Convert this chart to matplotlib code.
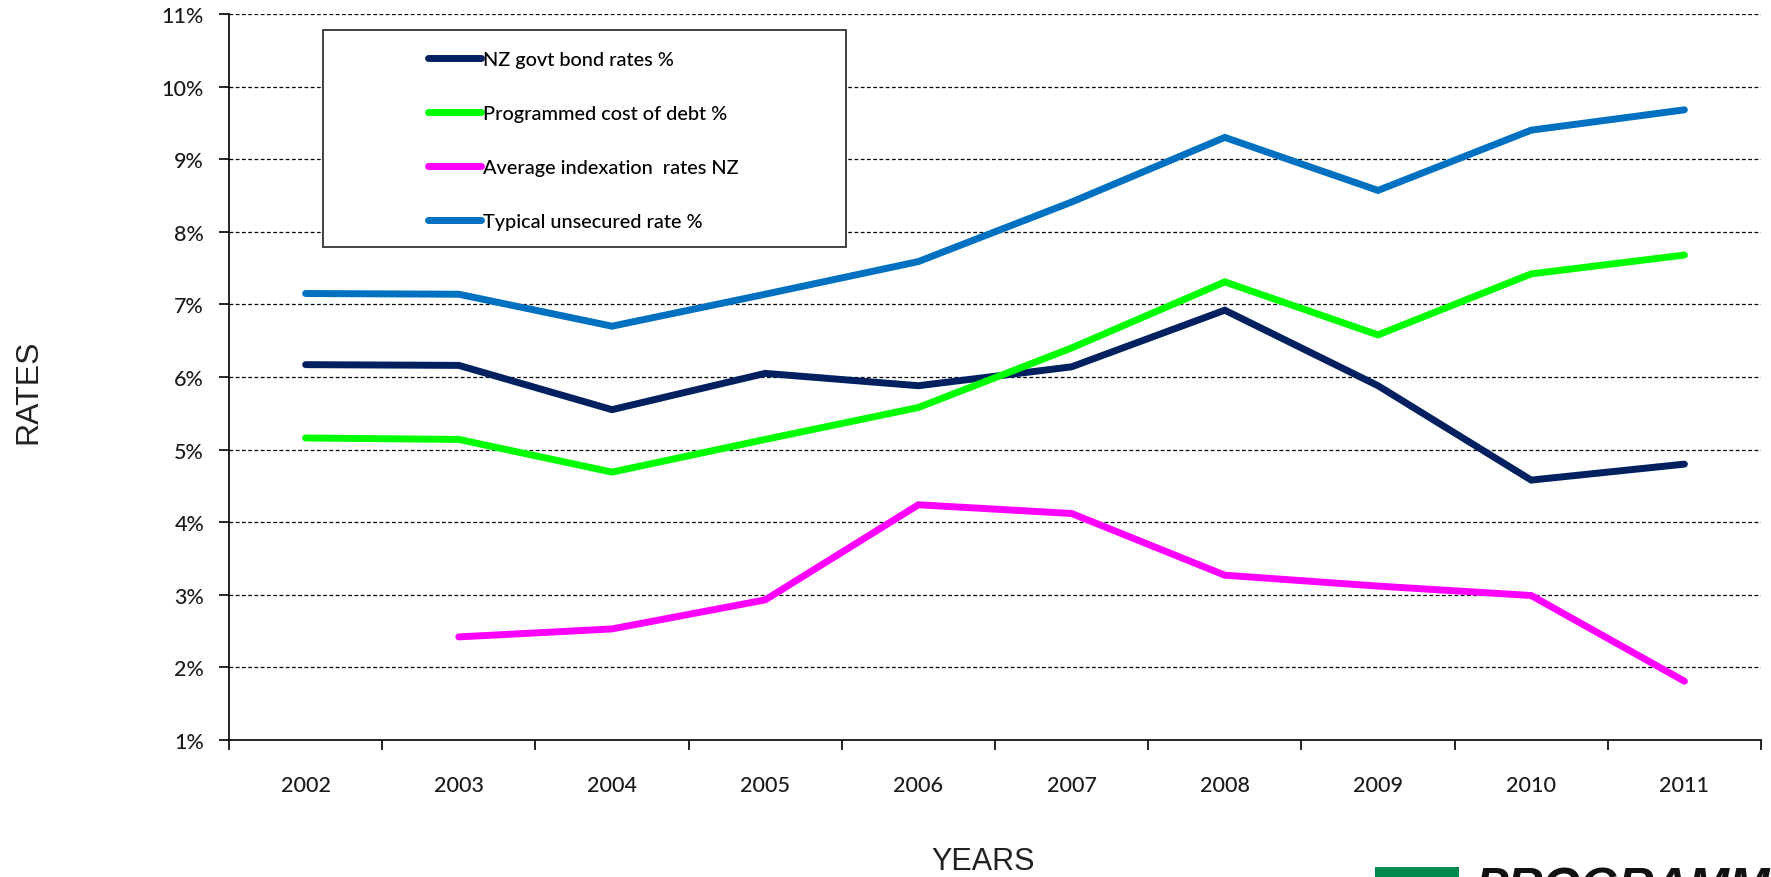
import matplotlib
matplotlib.use("Agg")
import matplotlib.pyplot as plt
from matplotlib.patches import Rectangle
from matplotlib.ticker import FuncFormatter
import numpy as np

years = ["2002", "2003", "2004", "2005", "2006", "2007", "2008", "2009", "2010", "2011"]
nz_govt_bond = [6.17, 6.16, 5.55, 6.05, 5.88, 6.14, 6.92, 5.88, 4.58, 4.80]
programmed_cost = [5.16, 5.14, 4.69, 5.14, 5.58, 6.40, 7.31, 6.58, 7.42, 7.68]
avg_indexation = [np.nan, 2.42, 2.53, 2.93, 4.24, 4.12, 3.27, 3.12, 2.99, 1.81]
typical_unsecured = [7.15, 7.14, 6.70, 7.14, 7.59, 8.41, 9.30, 8.57, 9.40, 9.68]

series_labels = ["NZ govt bond rates %", "Programmed cost of debt %",
                 "Average indexation  rates NZ", "Typical unsecured rate %"]
series_colors = ["#002060", "#00FF00", "#FF00FF", "#0070C0"]

W, H = 1771, 878
fig = plt.figure(figsize=(W / 100, H / 100), dpi=100)
ax = fig.add_axes([229 / W, 1 - 741 / H, (1761 - 229) / W, (741 - 15) / H])

x = np.arange(len(years))
handles = []
for vals, lab, col in zip([nz_govt_bond, programmed_cost, avg_indexation, typical_unsecured],
                          series_labels, series_colors):
    h, = ax.plot(x, vals, color=col, lw=5.0, solid_capstyle="round",
                 solid_joinstyle="miter", label=lab, zorder=3)
    handles.append(h)

ax.set_xlim(-0.5, len(years) - 0.5)
ax.set_ylim(1, 11)
ax.set_yticks(np.arange(1, 12))
ax.yaxis.set_major_formatter(FuncFormatter(lambda v, p: f"{int(round(v))}%"))
ax.set_xticks(np.arange(-0.5, len(years)), minor=False)
ax.set_xticklabels([""] * (len(years) + 1))
ax.set_xticks(x, minor=True)
ax.set_xticklabels(years, minor=True)
ax.tick_params(axis="x", which="minor", length=0, pad=25, labelsize=15.5)
ax.tick_params(axis="x", which="major", length=7, width=1.2, direction="out")
ax.tick_params(axis="y", length=7, width=1.2, direction="out", pad=11, labelsize=15.5)
for lbl in ax.get_yticklabels() + ax.get_xticklabels(minor=True):
    lbl.set_family("Lato")
    lbl.set_weight("medium")
    lbl.set_color("#1a1a1a")

ax.grid(axis="y", linestyle=(0, (3, 2)), color="black", lw=0.9)
ax.set_axisbelow(True)
ax.spines["right"].set_visible(False)
ax.spines["top"].set_visible(False)
ax.spines["left"].set_linewidth(1.2)
ax.spines["bottom"].set_linewidth(1.2)

# legend frame + legend
fig.patches.append(Rectangle((323 / W, 1 - 248 / H), (846 - 323) / W, (248 - 31) / H,
                             transform=fig.transFigure, facecolor="white",
                             edgecolor="#333333", lw=1.3, zorder=5))
leg = fig.legend(handles=handles, loc="upper left",
                 bbox_to_anchor=(410 / W, 1 - 34 / H), frameon=False,
                 handlelength=2.65, handletextpad=0.12, labelspacing=1.86,
                 prop={"family": "Lato", "size": 14.3, "weight": "medium"})
leg.set_zorder(6)

fig.text(28 / W, 1 - 392 / H, "RATES", rotation=90, ha="center", va="center",
         family="Liberation Sans", fontsize=23, color="#222222")
fig.text(983 / W, 1 - 862 / H, "YEARS", ha="center", va="center",
         family="Liberation Sans", fontsize=22, color="#222222")

# logo at bottom right (partially cut off, as in the reference)
fig.patches.append(Rectangle((1375 / W, 0), (1459 - 1375) / W, (878 - 868) / H,
                             transform=fig.transFigure, facecolor="#008A50",
                             edgecolor="none", zorder=5))
fig.text(1475 / W, 1 - 866 / H, "PROGRAMMED", ha="left", va="top",
         family="Liberation Sans", fontsize=35, fontweight="bold", fontstyle="italic",
         color="#111111")

fig.savefig("out.png", dpi=100)
